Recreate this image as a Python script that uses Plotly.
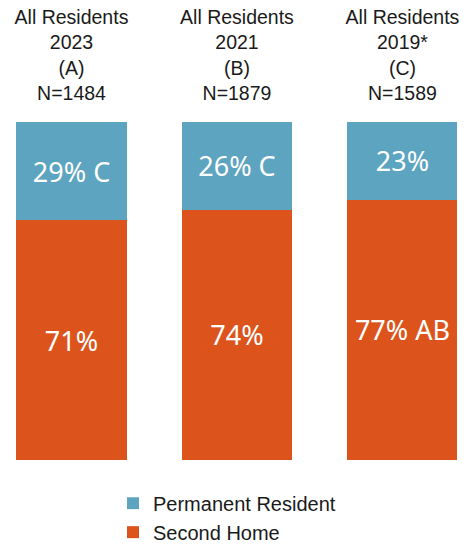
import plotly.graph_objects as go

# Survey groups (one stacked column each)
groups = [
    "All Residents<br>2023<br>(A)<br>N=1484",
    "All Residents<br>2021<br>(B)<br>N=1879",
    "All Residents<br>2019*<br>(C)<br>N=1589",
]

# Share of respondents (%)
second_home = [71, 74, 77]
permanent = [29, 26, 23]

# Significance letters shown beside each percentage
second_home_sig = ["", "", "AB"]
permanent_sig = ["C", "C", ""]

BLUE = "#5CA4BF"
ORANGE = "#DC541C"


def labels(values, sig):
    return [f"{v}% {s}".strip() for v, s in zip(values, sig)]


fig = go.Figure()
fig.add_trace(go.Bar(
    x=groups, y=second_home, name="Second Home",
    marker=dict(color=ORANGE, line=dict(width=0)),
    text=labels(second_home, second_home_sig),
    textposition="inside", insidetextanchor="middle",
    textfont=dict(family="Noto Sans", size=27, color="white"),
    legendgroup="b",
))
fig.add_trace(go.Bar(
    x=groups, y=permanent, name="Permanent Resident",
    marker=dict(color=BLUE, line=dict(width=0)),
    text=labels(permanent, permanent_sig),
    textposition="inside", insidetextanchor="middle",
    textfont=dict(family="Noto Sans", size=27, color="white"),
    legendgroup="a",
))

fig.update_layout(
    width=467, height=544,
    margin=dict(l=0, r=0, t=122, b=84, autoexpand=False),
    paper_bgcolor="white", plot_bgcolor="white",
    barmode="stack", bargap=0.335,
    uniformtext=dict(mode=False),
    font=dict(family="Liberation Sans", size=20, color="#1a1a1a"),
    xaxis=dict(
        type="category", side="top", range=[-0.432, 2.390],
        showgrid=False, showline=False, zeroline=False,
        ticks="outside", ticklen=13, tickcolor="rgba(0,0,0,0)",
        tickfont=dict(family="Liberation Sans", size=19.5, color="#1a1a1a"),
    ),
    yaxis=dict(range=[0, 100], visible=False),
    showlegend=True,
    legend=dict(
        orientation="v", traceorder="reversed",
        x=113 / 467, xanchor="left",
        y=-0.07, yanchor="top",
        font=dict(family="Liberation Sans", size=20, color="#1a1a1a"),
        tracegroupgap=3, bgcolor="rgba(0,0,0,0)",
    ),
)
for t in fig.data:
    t.update(constraintext="none")

fig.write_html("out.html")
